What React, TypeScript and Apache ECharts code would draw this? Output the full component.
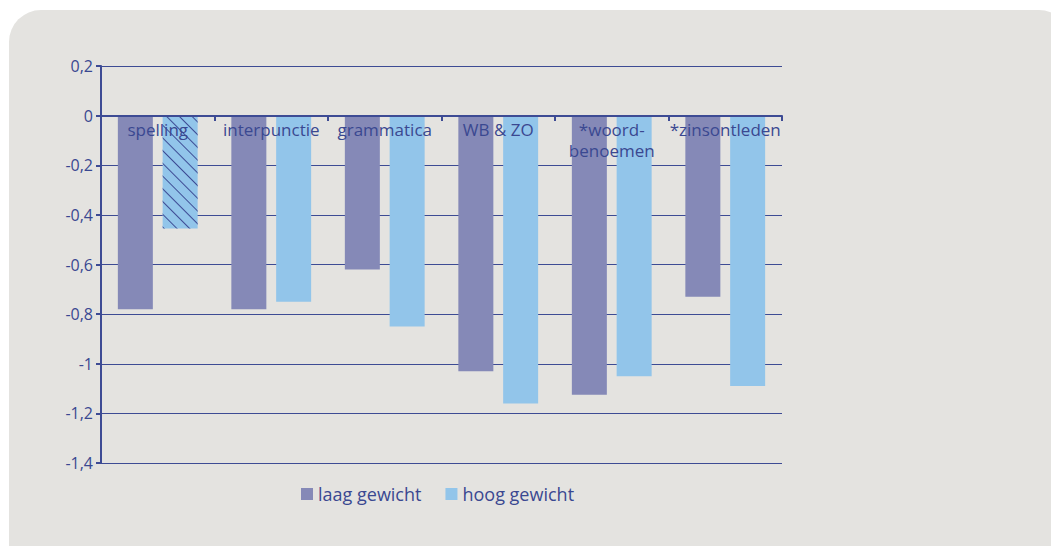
import React, { useEffect, useRef } from "react";
import * as echarts from "echarts";

const categories = ["spelling", "interpunctie", "grammatica", "WB & ZO", "*woord-\nbenoemen", "*zinsontleden"];
const laagGewicht = [-0.78, -0.78, -0.62, -1.03, -1.125, -0.73];
const hoogGewicht = [-0.455, -0.75, -0.85, -1.16, -1.05, -1.09];
const hatchedHoog = [0];

const TEXT = "#3a4891";
const LINE = "#3d4b94";
const FONT = "'Open Sans', 'Noto Sans', sans-serif";

export default function App() {
  const ref = useRef<HTMLDivElement>(null);
  useEffect(() => {
    const chart = echarts.init(ref.current!, null, { renderer: "svg" });
    chart.setOption({
      animation: false,
      backgroundColor: "#ffffff",
      textStyle: { fontFamily: FONT },
      graphic: [
        {
          type: "rect",
          z: -10,
          silent: true,
          shape: { x: 9, y: 10, width: 1060, height: 560, r: [32, 30, 0, 0] },
          style: { fill: "#e4e3e0" },
        },
      ],
      grid: { left: 101, right: 269, top: 66, bottom: 83, containLabel: false },
      legend: {
        left: 296,
        top: 480,
        icon: "rect",
        itemWidth: 12,
        itemHeight: 12,
        itemGap: 24,
        textStyle: { color: TEXT, fontSize: 18, fontFamily: FONT },
        data: ["laag gewicht", "hoog gewicht"],
      },
      xAxis: {
        type: "category",
        data: categories,
        position: "bottom",
        offset: -347,
        axisLine: { onZero: false, lineStyle: { color: LINE, width: 2 } },
        axisTick: { show: true, length: 5, inside: false, lineStyle: { color: LINE, width: 2 } },
        axisLabel: {
          interval: 0,
          color: TEXT,
          fontSize: 17,
          fontFamily: FONT,
          margin: 3,
          lineHeight: 21,
        },
        z: 10,
      },
      yAxis: {
        type: "value",
        min: -1.4,
        max: 0.2,
        interval: 0.2,
        axisLine: { show: true, lineStyle: { color: LINE, width: 2 } },
        axisTick: { show: true, length: 5, lineStyle: { color: LINE, width: 2 } },
        splitLine: { show: true, lineStyle: { color: LINE, width: 1 } },
        axisLabel: {
          color: TEXT,
          fontSize: 16,
          fontFamily: FONT,
          margin: 8,
          formatter: (v: number) => String(Math.round(v * 10) / 10).replace(".", ","),
        },
      },
      series: [
        {
          name: "laag gewicht",
          type: "bar",
          barWidth: 35,
          barGap: "28%",
          itemStyle: { color: "#8589b7" },
          data: laagGewicht,
        },
        {
          name: "hoog gewicht",
          type: "bar",
          barWidth: 35,
          itemStyle: { color: "#92c5ea" },
          data: hoogGewicht.map((v, i) =>
            hatchedHoog.includes(i)
              ? {
                  value: v,
                  itemStyle: {
                    color: "#92c5ea",
                    decal: {
                      symbol: "rect",
                      symbolSize: 1,
                      color: LINE,
                      dashArrayX: [1, 0],
                      dashArrayY: [1, 8],
                      rotation: Math.PI / 4,
                    },
                  },
                }
              : v
          ),
        },
      ],
    });
    return () => chart.dispose();
  }, []);
  return <div ref={ref} style={{ position: "fixed", left: 0, top: 0, width: 1051, height: 546 }} />;
}
